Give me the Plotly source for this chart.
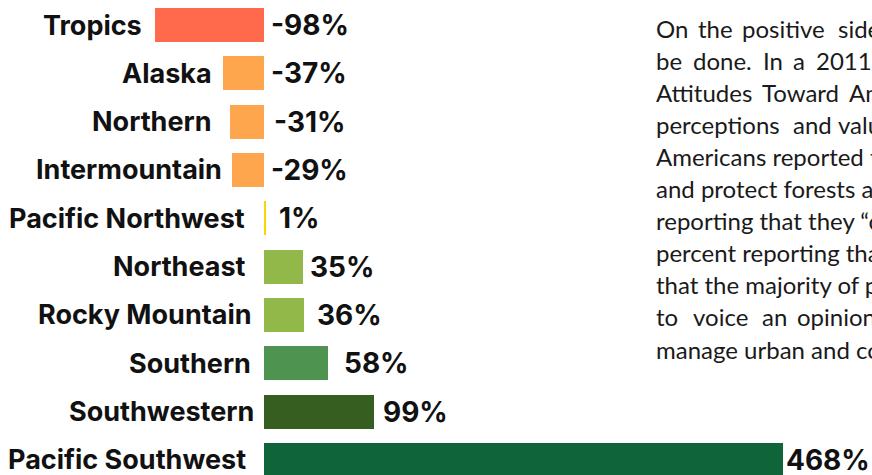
import plotly.graph_objects as go

# Percent change by region
regions = ["Tropics", "Alaska", "Northern", "Intermountain", "Pacific Northwest",
           "Northeast", "Rocky Mountain", "Southern", "Southwestern", "Pacific Southwest"]
changes = [-98, -37, -31, -29, 1, 35, 36, 58, 99, 468]
value_labels = ["-98%", "-37%", "-31%", "-29%", "1%", "35%", "36%", "58%", "99%", "468%"]
bar_colors = ["#FF6A4D", "#FDA64E", "#FDA64E", "#FDA64E", "#F9D800",
              "#93B84A", "#93B84A", "#4E9450", "#365E20", "#10643A"]

# Side text, one entry per line (lines run past the right edge)
text_lines = [
    "On the positive side,",
    "be done. In a 2011",
    "Attitudes Toward America's",
    "perceptions and values",
    "Americans reported that",
    "and protect forests are",
    "reporting that they “c",
    "percent reporting that",
    "that the majority of people",
    "to voice an opinion",
    "manage urban and community",
]

W, H = 872, 475
label_font = dict(family="Inter, Roboto, sans-serif", size=27, color="#111111")

# pixel gaps between each bar end and its name / value label
name_gap = [11, 9, 16, 8, 17, 16, 10, 11, 8, 16]
value_gap = [5, 5, 8, 5, 12, 5, 11, 14, 7, 1]

fig = go.Figure(go.Bar(
    y=list(range(len(regions))),
    x=changes,
    orientation="h",
    marker=dict(color=bar_colors, line=dict(width=0)),
    width=0.7,
    hoverinfo="skip",
))

annotations = []
for i, (name, v, lab) in enumerate(zip(regions, changes, value_labels)):
    annotations.append(dict(
        x=min(v, 0), y=i, xref="x", yref="y", text=f"<b>{name}</b>",
        showarrow=False, xanchor="right", yanchor="middle", xshift=-name_gap[i],
        font=label_font,
    ))
    annotations.append(dict(
        x=max(v, 0), y=i, xref="x", yref="y", text=f"<b>{lab}</b>",
        showarrow=False, xanchor="left", yanchor="middle", xshift=value_gap[i],
        font=dict(label_font, size=28),
    ))

# Justified lines are laid out word by word
justified = {
    0: [("On", 656), ("the", 698), ("positive", 742), ("side,", 838)],
    1: [("be", 656), ("done.", 693), ("In", 763), ("a", 793), ("2011", 816)],
    2: [("Attitudes", 656), ("Toward", 762), ("America's", 849)],
    3: [("perceptions", 656), ("and", 793), ("values", 838)],
    9: [("to", 656), ("voice", 693), ("an", 762), ("opinion", 797)],
}
body_font = dict(family="Lato, 'Open Sans', sans-serif", size=24, color="#1a1a1a")
for k, line in enumerate(text_lines):
    ypx = 28 + 32.1 * k
    pieces = justified.get(k, [(line, 656)])
    for word, xpx in pieces:
        annotations.append(dict(
            x=xpx / W, y=1 - ypx / H, xref="paper", yref="paper", text=word,
            showarrow=False, xanchor="left", yanchor="middle", xshift=-2,
            font=body_font,
        ))

px_per_unit = 1.108
zero_px = 264
fig.update_layout(
    width=W, height=H,
    margin=dict(l=0, r=0, t=0, b=0),
    paper_bgcolor="white", plot_bgcolor="white",
    showlegend=False,
    xaxis=dict(range=[-zero_px / px_per_unit, (W - zero_px) / px_per_unit],
               visible=False, fixedrange=True),
    yaxis=dict(range=[(H - 25) / 48.33, -25 / 48.33], visible=False, fixedrange=True),
    annotations=annotations,
    bargap=0,
)

fig.write_html("out.html")
